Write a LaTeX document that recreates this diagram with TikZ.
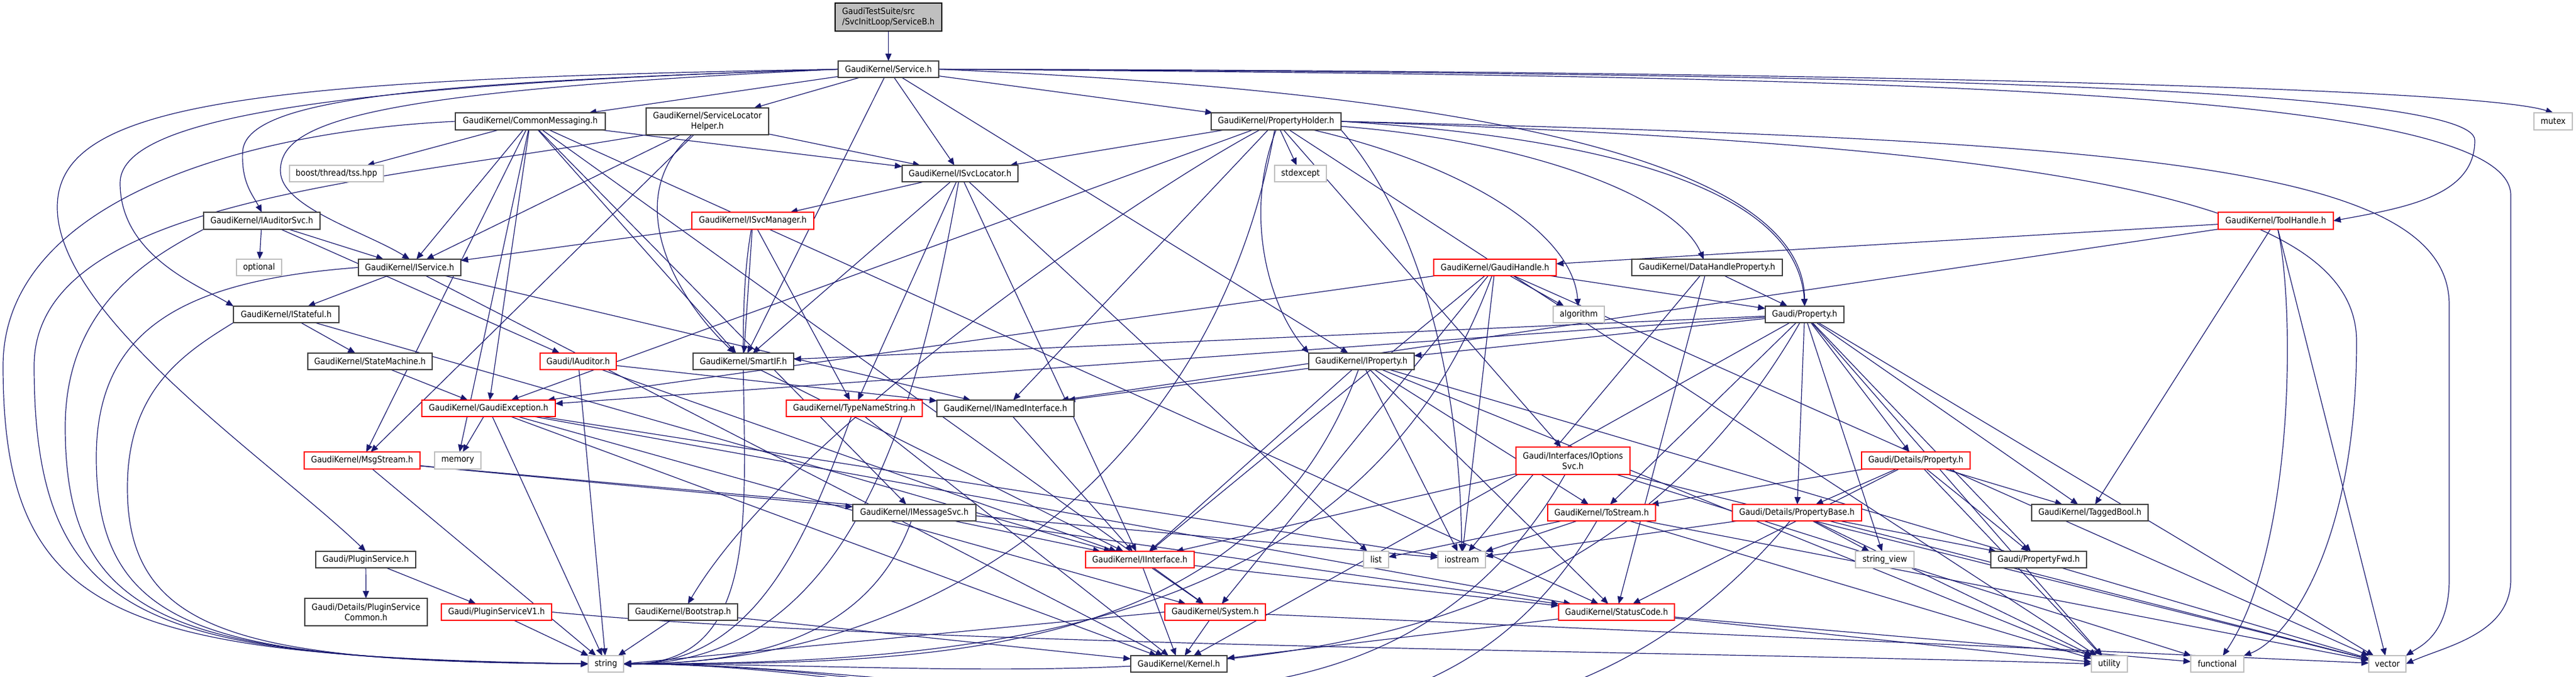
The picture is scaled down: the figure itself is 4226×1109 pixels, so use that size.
\documentclass[tikz,border=0pt]{standalone}
\usepackage{fontspec}
\setmainfont{DejaVu Sans}[FakeStretch=0.9]
\usetikzlibrary{arrows.meta}
\definecolor{edgec}{RGB}{25,25,112}
\definecolor{boxk}{RGB}{64,64,64}
\definecolor{boxr}{RGB}{255,0,0}
\definecolor{boxg}{RGB}{191,191,191}
\definecolor{rootf}{RGB}{191,191,191}
\pgfdeclarelayer{background}
\pgfsetlayers{background,main}
\begin{document}
\begin{tikzpicture}[x=0.5pt,y=-0.5pt,
  every node/.style={font=\fontsize{7.15}{8.6}\selectfont, inner sep=0pt, outer sep=0pt, align=center, rectangle},
  nb/.style={draw=boxk, line width=0.75pt, fill=white},
  nr/.style={draw=boxr, line width=0.75pt, fill=white},
  ng/.style={draw=boxg, line width=0.75pt, fill=white},
  nroot/.style={draw=black, fill=rootf, line width=0.75pt, align=left},
  sz/.style 2 args={minimum width=#1*0.5pt, minimum height=#2*0.5pt},
  e/.style={draw=edgec, line width=0.6pt, -{Triangle[length=6pt,width=5pt]}},
]
\useasboundingbox (0,0) rectangle (4226,1109);
% nodes
\node[nroot, sz={175}{46}] (root) at (1457.5,28) {GaudiTestSuite/src\\/SvcInitLoop/ServiceB.h};
\node[nb, sz={165}{27}] (svc) at (1457.5,113.5) {GaudiKernel/Service.h};
\node[nb, sz={246}{28}] (cm) at (870,199) {GaudiKernel/CommonMessaging.h};
\node[nb, sz={201}{44}] (slh) at (1160.5,199) {GaudiKernel/ServiceLocator\\Helper.h};
\node[nb, sz={213}{28}] (ph) at (2093.5,199) {GaudiKernel/PropertyHolder.h};
\node[ng, sz={63}{28}] (mutex) at (4188.5,199) {mutex};
\node[ng, sz={154}{27}] (boost) at (552,284.5) {boost/thread/tss.hpp};
\node[nb, sz={190}{27}] (isl) at (1575,284.5) {GaudiKernel/ISvcLocator.h};
\node[ng, sz={85}{27}] (stdexcept) at (2133.5,284.5) {stdexcept};
\node[nb, sz={191}{28}] (ias) at (429.5,362) {GaudiKernel/IAuditorSvc.h};
\node[nr, sz={200}{28}] (ism) at (1235,362) {GaudiKernel/ISvcManager.h};
\node[nr, sz={189}{28}] (th) at (3733.5,362) {GaudiKernel/ToolHandle.h};
\node[ng, sz={74}{27}] (optional) at (425,438.5) {optional};
\node[nb, sz={168}{27}] (is) at (672,438.5) {GaudiKernel/IService.h};
\node[nr, sz={201}{27}] (gh) at (2452.5,438.5) {GaudiKernel/GaudiHandle.h};
\node[nb, sz={247}{27}] (dhp) at (2800.5,438.5) {GaudiKernel/DataHandleProperty.h};
\node[nb, sz={173}{27}] (ist) at (469.5,515.5) {GaudiKernel/IStateful.h};
\node[ng, sz={84}{27}] (algorithm) at (2590,515.5) {algorithm};
\node[nb, sz={129}{27}] (prop) at (2960.5,515.5) {Gaudi/Property.h};
\node[nb, sz={204}{27}] (sm) at (607,592.5) {GaudiKernel/StateMachine.h};
\node[nr, sz={125}{27}] (iaud) at (948.5,592.5) {Gaudi/IAuditor.h};
\node[nb, sz={165}{27}] (sif) at (1219.5,592.5) {GaudiKernel/SmartIF.h};
\node[nb, sz={173}{27}] (ipr) at (2233.5,592.5) {GaudiKernel/IProperty.h};
\node[nr, sz={219}{27}] (gex) at (801.5,669.5) {GaudiKernel/GaudiException.h};
\node[nr, sz={223}{27}] (tns) at (1401.5,669.5) {GaudiKernel/TypeNameString.h};
\node[nb, sz={225}{27}] (ini) at (1649.5,669.5) {GaudiKernel/INamedInterface.h};
\node[nr, sz={178}{28}] (dprop) at (3143,755) {Gaudi/Details/Property.h};
\node[nr, sz={187}{45}] (ios) at (2580.5,755.5) {Gaudi/Interfaces/IOptions\\Svc.h};
\node[nr, sz={190}{28}] (msg) at (594,755) {GaudiKernel/MsgStream.h};
\node[ng, sz={76}{28}] (memory) at (751,755) {memory};
\node[nb, sz={202}{27}] (ims) at (1500,840.5) {GaudiKernel/IMessageSvc.h};
\node[nr, sz={177}{27}] (tostr) at (2627.5,840.5) {GaudiKernel/ToStream.h};
\node[nr, sz={212}{27}] (pb) at (2948,840.5) {Gaudi/Details/PropertyBase.h};
\node[nb, sz={191}{27}] (tb) at (3428.5,840.5) {GaudiKernel/TaggedBool.h};
\node[nb, sz={164}{27}] (ps) at (600,917.5) {Gaudi/PluginService.h};
\node[ng, sz={41}{27}] (list) at (2257.5,917.5) {list};
\node[ng, sz={78}{27}] (iostream) at (2398,917.5) {iostream};
\node[nr, sz={178}{27}] (ii) at (1870,917.5) {GaudiKernel/IInterface.h};
\node[ng, sz={96}{27}] (sv) at (3092,917.5) {string\_view};
\node[nb, sz={157}{27}] (pfwd) at (3344.5,917.5) {Gaudi/PropertyFwd.h};
\node[nb, sz={201}{45}] (psc) at (600.5,1003.5) {Gaudi/Details/PluginService\\Common.h};
\node[nr, sz={181}{27}] (psv1) at (814.5,1003.5) {Gaudi/PluginServiceV1.h};
\node[nb, sz={179}{27}] (boot) at (1120.5,1003.5) {GaudiKernel/Bootstrap.h};
\node[nr, sz={165}{27}] (sys) at (1993.5,1003.5) {GaudiKernel/System.h};
\node[nr, sz={190}{27}] (sc) at (2652,1003.5) {GaudiKernel/StatusCode.h};
\node[ng, sz={58}{27}] (string) at (994,1088.5) {string};
\node[nb, sz={158}{27}] (kernel) at (1934,1088.5) {GaudiKernel/Kernel.h};
\node[ng, sz={59}{27}] (utility) at (3460.5,1088.5) {utility};
\node[ng, sz={87}{27}] (functional) at (3637.5,1088.5) {functional};
\node[ng, sz={61}{27}] (vector) at (3916.5,1088.5) {vector};
\begin{pgfonlayer}{background}
\fill[white] (0,0) rectangle (4226,1109);
% root
\draw[e] (root) -- (svc);
% Service.h
\draw[e] (svc) -- (cm);
\draw[e] (svc) -- (slh);
\draw[e] (svc) -- (isl);
\draw[e] (svc) -- (ph);
\draw[e] (svc) -- (sif);
\draw[e] (svc) -- (ipr);
\draw[e] (svc.west) .. controls (700,135) and (400,160) .. (398,250) .. controls (396,300) and (415,320) .. (ias.north);
\draw[e] (svc.west) .. controls (600,150) and (460,200) .. (460,280) .. controls (460,340) and (600,380) .. (is.north);
\draw[e] (svc.west) .. controls (500,140) and (197,200) .. (197,300) .. controls (197,420) and (330,470) .. (ist.north west);
\draw[e] (svc.west) .. controls (400,130) and (94,170) .. (94,340) .. controls (94,520) and (450,760) .. (ps.north);
\draw[e] (svc.east) .. controls (2400,150) and (2960,260) .. (prop.north);
\draw[e] (svc.east) .. controls (2800,115) and (4050,140) .. (mutex.north);
\draw[e] (svc.east) .. controls (3000,120) and (4060,140) .. (4060,230) .. controls (4060,320) and (3950,340) .. (th.east);
\draw[e] (svc.east) .. controls (3000,125) and (4119,140) .. (4119,320) -- (4119,950) .. controls (4119,1040) and (4010,1060) .. (vector.east);
% CommonMessaging
\draw[e] (cm) -- (boost);
\draw[e] (cm.west) .. controls (400,215) and (5,330) .. (5,600) .. controls (5,1020) and (200,1075) .. (string.west);
\draw[e] (cm) -- (isl);
\draw[e] (cm) -- (sif);
\draw[e] (cm) -- (msg);
\draw[e] (cm) -- (gex);
\draw[e] (cm) -- (ims);
\draw[e] (cm) -- (sc);
\draw[e] (cm) -- (sys);
\draw[e] (cm) -- (memory);
\draw[e] (cm) -- (is);
% ServiceLocatorHelper
\draw[e] (slh) -- (isl);
\draw[e] (slh) -- (is);
\draw[e] (slh) .. controls (1020,320) and (1100,480) .. (sif);
\draw[e] (slh) -- (msg);
\draw[e] (slh.south west) .. controls (600,300) and (56,330) .. (56,600) .. controls (56,1030) and (250,1078) .. (string.west);
% PropertyHolder
\draw[e] (ph) -- (stdexcept);
\draw[e] (ph) -- (isl);
\draw[e] (ph) .. controls (2400,270) and (2580,380) .. (algorithm);
\draw[e] (ph) .. controls (2500,230) and (2750,320) .. (dhp);
\draw[e] (ph.east) .. controls (2700,230) and (2950,330) .. (prop.north);
\draw[e] (ph.south) .. controls (2040,350) and (2080,500) .. (ipr.north west);
\draw[e] (ph) -- (ini);
\draw[e] (ph) -- (gex);
\draw[e] (ph) -- (ios);
\draw[e] (ph) .. controls (1900,300) and (1300,700) .. (boot);
\draw[e] (ph.south east) .. controls (2320,350) and (2395,600) .. (iostream.north);
\draw[e] (ph) to[out=-100,in=0] (string.east);
\draw[e] (ph) -- (utility);
\draw[e] (ph.east) .. controls (3500,230) and (4018,270) .. (4018,500) -- (4018,950) .. controls (4018,1040) and (3970,1060) .. (vector.north east);
\draw[e] (ph.east) .. controls (3400,240) and (3866,330) .. (3866,560) .. controls (3866,900) and (3750,1050) .. (functional.north east);
% ISvcLocator
\draw[e] (isl) -- (ism);
\draw[e] (isl) -- (sif);
\draw[e] (isl) -- (tns);
\draw[e] (isl) -- (ii);
\draw[e] (isl) -- (list);
\draw[e] (isl) to[out=-100,in=0] (string.east);
% IAuditorSvc
\draw[e] (ias) -- (optional);
\draw[e] (ias) -- (is);
\draw[e] (ias) -- (iaud);
\draw[e] (ias.south west) .. controls (250,420) and (107,500) .. (107,700) .. controls (107,1030) and (300,1080) .. (string.west);
% ISvcManager
\draw[e] (ism) -- (is);
\draw[e] (ism) -- (sif);
\draw[e] (ism) -- (tns);
\draw[e] (ism) to[out=-100,in=0] (string.east);
% ToolHandle
\draw[e] (th) -- (gh);
\draw[e] (th) -- (ini);
\draw[e] (th) -- (tb);
\draw[e] (th) .. controls (3765,500) and (3765,900) .. (functional);
\draw[e] (th) -- (vector);
% IService
\draw[e] (is) -- (ist);
\draw[e] (is) -- (ini);
\draw[e] (is) -- (kernel);
\draw[e] (is.west) .. controls (300,460) and (158,540) .. (158,750) .. controls (158,1040) and (350,1082) .. (string.west);
% GaudiHandle
\draw[e] (gh) -- (algorithm);
\draw[e] (gh) -- (prop);
\draw[e] (gh) -- (gex);
\draw[e] (gh) -- (ii);
\draw[e] (gh) -- (sys);
\draw[e] (gh) -- (iostream);
\draw[e] (gh) to[out=-110,in=0] (string.east);
\draw[e] (gh) -- (vector);
% DataHandleProperty
\draw[e] (dhp) -- (prop);
\draw[e] (dhp) -- (sc);
\draw[e] (dhp) -- (iostream);
% IStateful
\draw[e] (ist) -- (sm);
\draw[e] (ist) -- (ii);
\draw[e] (ist.south west) .. controls (300,580) and (209,640) .. (209,800) .. controls (209,1040) and (400,1085) .. (string.west);
% Gaudi/Property.h
\draw[e] (prop) -- (dprop);
\draw[e] (prop) -- (pb);
\draw[e] (prop) -- (pfwd);
\draw[e] (prop) -- (ipr);
\draw[e] (prop) -- (kernel);
\draw[e] (prop) -- (sif);
\draw[e] (prop) -- (tb);
\draw[e] (prop) -- (tostr);
\draw[e] (prop) -- (gex);
\draw[e] (prop) to[out=-120,in=0] (string.east);
\draw[e] (prop) -- (sv);
\draw[e] (prop) -- (utility);
\draw[e] (prop) -- (vector);
% StateMachine
\draw[e] (sm) -- (gex);
% IAuditor
\draw[e] (iaud) -- (ini);
\draw[e] (iaud) -- (ii);
\draw[e] (iaud) -- (string);
% SmartIF
\draw[e] (sif) -- (ii);
% IProperty
\draw[e] (ipr) -- (ini);
\draw[e] (ipr) -- (ii);
\draw[e] (ipr) -- (sc);
\draw[e] (ipr) -- (iostream);
\draw[e] (ipr) -- (tostr);
\draw[e] (ipr) to[out=-110,in=0] (string.east);
\draw[e] (ipr) -- (vector);
\draw[e] (ipr) -- (utility);
% GaudiException
\draw[e] (gex) -- (memory);
\draw[e] (gex) -- (string);
\draw[e] (gex) -- (kernel);
\draw[e] (gex) -- (sc);
\draw[e] (gex) -- (sys);
\draw[e] (gex) -- (iostream);
% TypeNameString
\draw[e] (tns) to[out=-110,in=0] (string.east);
\draw[e] (tns) -- (kernel);
% INamedInterface
\draw[e] (ini) -- (ii);
% Details/Property
\draw[e] (dprop) -- (pb);
\draw[e] (dprop) -- (tb);
\draw[e] (dprop) -- (pfwd);
\draw[e] (dprop) -- (utility);
\draw[e] (dprop) -- (tostr);
\draw[e] (dprop) -- (sc);
% IOptionsSvc
\draw[e] (ios) -- (ii);
\draw[e] (ios) to[out=-120,in=0] (string.east);
\draw[e] (ios) -- (functional);
\draw[e] (ios) -- (vector);
% MsgStream
\draw[e] (msg) -- (ims);
\draw[e] (msg) -- (string);
\draw[e] (msg) -- (iostream);
% IMessageSvc
\draw[e] (ims) -- (ii);
\draw[e] (ims) to[out=-110,in=0] (string.east);
\draw[e] (ims) -- (sc);
% ToStream
\draw[e] (tostr) -- (list);
\draw[e] (tostr) -- (iostream);
\draw[e] (tostr) to[out=-120,in=0] (string.east);
\draw[e] (tostr) -- (utility);
\draw[e] (tostr) -- (vector);
% PropertyBase
\draw[e] (pb) -- (sv);
\draw[e] (pb) -- (pfwd);
\draw[e] (pb) -- (utility);
\draw[e] (pb) to[out=-130,in=0] (string.east);
\draw[e] (pb) -- (iostream);
\draw[e] (pb) -- (vector);
% PluginService
\draw[e] (ps) -- (psc);
\draw[e] (ps) -- (psv1);
% PluginServiceV1
\draw[e] (psv1) -- (string);
\draw[e] (psv1.east) .. controls (1500,1060) and (2800,1068) .. (utility.west);
% Bootstrap
\draw[e] (boot) -- (string);
\draw[e] (boot) -- (kernel);
% IInterface
\draw[e] (ii) -- (sys);
\draw[e] (ii) -- (kernel);
\draw[e] (ii) -- (sc);
% System
\draw[e] (sys) -- (kernel);
\draw[e] (sys.west) -- (string.east);
\draw[e] (sys) -- (vector);
% StatusCode
\draw[e] (sc) -- (kernel);
\draw[e] (sc) -- (functional);
\draw[e] (sc) -- (utility);
\end{pgfonlayer}
\end{tikzpicture}
\end{document}
